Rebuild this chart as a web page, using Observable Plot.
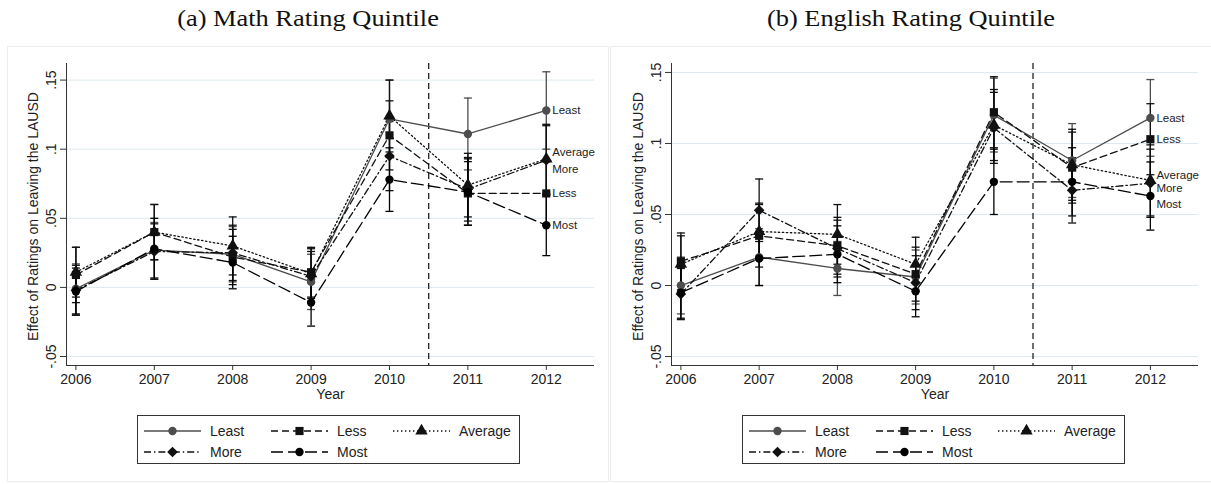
<!DOCTYPE html>
<html>
<head>
<meta charset="utf-8">
<script src="https://cdn.jsdelivr.net/npm/d3@7"></script>
<script src="https://cdn.jsdelivr.net/npm/@observablehq/plot@0.6"></script>
<style>
  body { margin: 0; background: #fff; }
  #page { position: relative; width: 1211px; height: 484px; overflow: hidden; background: #fff;
          font-family: "Liberation Sans", Arial, Helvetica, sans-serif; color: #222; }
  .title { position: absolute; top: 4px; font-family: "Liberation Serif", "Times New Roman", serif;
           font-size: 24px; line-height: 28px; color: #111; white-space: nowrap;
           transform: translateX(-50%) scaleX(1.1); }
  .frame { position: absolute; top: 46px; height: 436px; border: 1px solid #eceeee; box-sizing: border-box; }
  .chart { position: absolute; top: 46px; }
  .chart svg { display: block; overflow: visible; }
  .legend { position: absolute; top: 415px; height: 49px; border: 1px solid #333; box-sizing: border-box; background: #fff; }
  .legend .item { position: absolute; height: 16px; }
  .legend .item svg { position: absolute; left: 0; top: 0; overflow: visible; }
  .legend .item span { position: absolute; top: -1px; font-size: 14px; line-height: 18px; color: #222; white-space: nowrap; }
</style>
</head>
<body>
<div id="page"></div>
<script>
// ---- data -------------------------------------------------------------
const years = [2006, 2007, 2008, 2009, 2010, 2011, 2012];
const quintiles = ["Least", "Less", "Average", "More", "Most"];
const cutoffYear = 2010.5;
const yTicks = [-0.05, 0, 0.05, 0.1, 0.15];
const yTickLabels = ["-.05", "0", ".05", ".1", ".15"];

// (a) Math rating quintile: point estimates
const mathLeast   = [-0.001, 0.027, 0.024, 0.004, 0.122, 0.111, 0.128];
const mathLess    = [ 0.009, 0.040, 0.022, 0.011, 0.110, 0.068, 0.068];
const mathAverage = [ 0.011, 0.040, 0.030, 0.010, 0.124, 0.074, 0.093];
const mathMore    = [-0.002, 0.026, 0.025, 0.008, 0.095, 0.071, 0.092];
const mathMost    = [-0.003, 0.028, 0.018, -0.011, 0.078, 0.069, 0.045];
// (a) 95% confidence interval half-widths
const mathLeastCI   = [0.018, 0.020, 0.020, 0.020, 0.028, 0.026, 0.028];
const mathLessCI    = [0.020, 0.020, 0.020, 0.018, 0.025, 0.023, 0.023];
const mathAverageCI = [0.018, 0.020, 0.021, 0.018, 0.026, 0.023, 0.025];
const mathMoreCI    = [0.018, 0.020, 0.020, 0.018, 0.025, 0.023, 0.025];
const mathMostCI    = [0.017, 0.022, 0.019, 0.017, 0.023, 0.024, 0.022];

// (b) English rating quintile: point estimates
const engLeast   = [ 0.000, 0.020, 0.012, 0.006, 0.120, 0.088, 0.118];
const engLess    = [ 0.017, 0.035, 0.028, 0.008, 0.122, 0.083, 0.103];
const engAverage = [ 0.015, 0.038, 0.036, 0.015, 0.113, 0.085, 0.074];
const engMore    = [-0.006, 0.053, 0.026, 0.002, 0.111, 0.067, 0.072];
const engMost    = [-0.005, 0.019, 0.022, -0.004, 0.073, 0.073, 0.063];
// (b) 95% confidence interval half-widths
const engLeastCI   = [0.020, 0.020, 0.019, 0.019, 0.026, 0.026, 0.027];
const engLessCI    = [0.020, 0.022, 0.020, 0.019, 0.025, 0.025, 0.025];
const engAverageCI = [0.020, 0.020, 0.021, 0.019, 0.025, 0.025, 0.025];
const engMoreCI    = [0.018, 0.022, 0.020, 0.019, 0.025, 0.023, 0.024];
const engMostCI    = [0.018, 0.019, 0.020, 0.018, 0.023, 0.024, 0.024];

// ---- styles -------------------------------------------------------------
const style = {
  Least:   {color: "#4d4d4d", dash: null,          symbol: "circle",   r: 4.2},
  Less:    {color: "#111",    dash: "7,4",         symbol: "square",   r: 4.6},
  Average: {color: "#111",    dash: "1.4,2.6",     symbol: "triangle", r: 4.6},
  More:    {color: "#111",    dash: "7,3,1.4,3",   symbol: "diamond2", r: 4.8},
  Most:    {color: "#000",    dash: "12,5",        symbol: "circle",   r: 4.2}
};
const symbolTypes = {circle: d3.symbolCircle, square: d3.symbolSquare, triangle: d3.symbolTriangle, diamond2: d3.symbolDiamond2};

// horizontal cap drawn at the ends of each confidence interval
const capSymbol = { draw(ctx) { ctx.moveTo(-4, 0); ctx.lineTo(4, 0); } };

const fontFamily = '"Liberation Sans", Arial, Helvetica, sans-serif';
const page = document.getElementById("page");

function makeRows(est, ci) {
  return quintiles.flatMap((q, i) => years.map((year, j) => ({
    q, year, v: est[i][j], lo: est[i][j] - ci[i][j], hi: est[i][j] + ci[i][j]
  })));
}

function drawPanel({left, title, est, ci, yDomain, marginLeft, marginRight, labelDy, legendLeft}) {
  const rows = makeRows(est, ci);
  const xDomain = [2005.88, 2012.615];
  const tickLabel = new Map(yTicks.map((t, i) => [t, yTickLabels[i]]));
  const width = 601;

  const marks = [
    Plot.gridY(yTicks, {stroke: "#dde9ee", strokeOpacity: 1, strokeWidth: 1}),
    Plot.ruleX([cutoffYear], {stroke: "#222", strokeWidth: 1.3, strokeDasharray: "6,4"})
  ];
  for (const q of quintiles) {
    const s = style[q];
    const d = rows.filter(r => r.q === q);
    marks.push(
      Plot.ruleX(d, {x: "year", y1: "lo", y2: "hi", stroke: s.color, strokeWidth: 1.3}),
      Plot.dot(d, {x: "year", y: "lo", symbol: capSymbol, stroke: s.color, fill: "none", strokeWidth: 1.3}),
      Plot.dot(d, {x: "year", y: "hi", symbol: capSymbol, stroke: s.color, fill: "none", strokeWidth: 1.3})
    );
  }
  for (const q of quintiles) {
    const s = style[q];
    const d = rows.filter(r => r.q === q);
    marks.push(Plot.line(d, {x: "year", y: "v", stroke: s.color, strokeWidth: 1.3,
                             strokeDasharray: s.dash ?? undefined}));
  }
  for (const q of quintiles) {
    const s = style[q];
    const d = rows.filter(r => r.q === q);
    marks.push(Plot.dot(d, {x: "year", y: "v", symbol: s.symbol, r: s.r, fill: s.color, stroke: "none"}));
    marks.push(Plot.text(d.filter(r => r.year === years[years.length - 1]),
      {x: "year", y: "v", text: "q", dx: 6, dy: labelDy[q] || 0, textAnchor: "start",
       fontSize: 11.5, fill: "#222"}));
  }
  marks.push(
    Plot.ruleY([yDomain[0]], {stroke: "#333", strokeWidth: 1}),
    Plot.ruleX([xDomain[0]], {stroke: "#333", strokeWidth: 1}),
    Plot.axisY({ticks: yTicks, tickFormat: t => tickLabel.get(t), tickRotate: -90,
                tickSize: 6, tickPadding: 5, label: null, stroke: "#333"}),
    Plot.axisX({ticks: years, tickFormat: d3.format("d"), tickSize: 5, tickPadding: 4,
                label: null, stroke: "#333"}),
    Plot.text(["Effect of Ratings on Leaving the LAUSD"],
      {frameAnchor: "left", dx: -33, dy: 2, rotate: -90, textAnchor: "middle", lineAnchor: "middle",
       text: d => d, fontSize: 14, fill: "#222"}),
    Plot.text(["Year"], {frameAnchor: "bottom", dy: 33, text: d => d, fontSize: 14, fill: "#222"})
  );

  const chart = Plot.plot({
    width, height: 362,
    marginLeft, marginRight, marginTop: 17, marginBottom: 43,
    style: {fontSize: "14px", fontFamily, color: "#222", background: "transparent"},
    x: {domain: xDomain},
    y: {domain: yDomain},
    marks
  });

  const frame = document.createElement("div");
  frame.className = "frame";
  frame.style.left = left + "px";
  frame.style.width = (width + 1) + "px";
  page.appendChild(frame);

  const holder = document.createElement("div");
  holder.className = "chart";
  holder.style.left = left + "px";
  holder.appendChild(chart);
  page.appendChild(holder);

  const t = document.createElement("div");
  t.className = "title";
  t.textContent = title;
  t.style.left = (left + 301) + "px";
  page.appendChild(t);

  // legend box below the plot
  const legend = document.createElement("div");
  legend.className = "legend";
  legend.style.left = (left + legendLeft) + "px";
  legend.style.width = "383px";
  page.appendChild(legend);
  const cols = [6, 133, 255];
  const textOffset = 66;
  quintiles.forEach((q, i) => {
    const s = style[q];
    const item = document.createElement("div");
    item.className = "item";
    item.style.left = cols[i % 3] + "px";
    item.style.top = (i < 3 ? 7 : 28) + "px";
    const sw = d3.create("svg").attr("width", 57).attr("height", 16);
    sw.append("line").attr("x1", 0).attr("x2", 57).attr("y1", 8).attr("y2", 8)
      .attr("stroke", s.color).attr("stroke-width", 1.3)
      .attr("stroke-dasharray", s.dash);
    sw.append("path")
      .attr("transform", "translate(28.5,8)")
      .attr("d", d3.symbol(symbolTypes[s.symbol], Math.PI * s.r * s.r)())
      .attr("fill", s.color);
    item.appendChild(sw.node());
    const label = document.createElement("span");
    label.style.left = textOffset + "px";
    label.textContent = q;
    item.appendChild(label);
    legend.appendChild(item);
  });
}

drawPanel({
  left: 7,
  title: "(a) Math Rating Quintile",
  est: [mathLeast, mathLess, mathAverage, mathMore, mathMost],
  ci: [mathLeastCI, mathLessCI, mathAverageCI, mathMoreCI, mathMostCI],
  yDomain: [-0.0565, 0.162],
  marginLeft: 59, marginRight: 14,
  labelDy: {Average: -7, More: 9},
  legendLeft: 130
});

drawPanel({
  left: 610,
  title: "(b) English Rating Quintile",
  est: [engLeast, engLess, engAverage, engMore, engMost],
  ci: [engLeastCI, engLessCI, engAverageCI, engMoreCI, engMostCI],
  yDomain: [-0.0563, 0.1563],
  marginLeft: 61, marginRight: 13,
  labelDy: {Average: -5, More: 5, Most: 8},
  legendLeft: 132
});
</script>
</body>
</html>
